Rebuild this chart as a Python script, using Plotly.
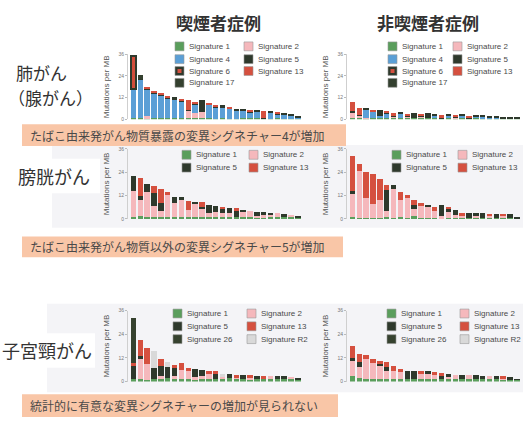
import plotly.graph_objects as go

W, H = 523, 421


def px(x):
    return x / W


def py(y):
    return 1 - y / H


# ---------------- data ----------------
cases = [1, 2, 3, 4, 5, 6, 7, 8, 9, 10, 11, 12, 13, 14, 15, 16, 17, 18, 19, 20, 21, 22, 23, 24, 25]
y_tickvals = [0, 12, 24, 36]

# Lung adenocarcinoma, smokers
lung_smk_sig1 = [0.6, 0.5, 0.4, 0.5, 0.5, 0.5, 0.6, 0.5, 0.5, 0.5, 0.5, 0.5, 0.4, 0.5, 0.4, 0.4, 1.0, 0.5, 0.8, 0.4, 0.4, 0.5, 0.4, 0.4, 0.5]
lung_smk_sig2 = [0, 0, 1.5, 0, 0, 0, 0, 0, 4.0, 3.0, 3.5, 0, 0, 0, 0, 0, 0, 0, 0, 0, 0, 0, 0, 0, 0]
lung_smk_sig4 = [15.9, 21.8, 15.0, 14.0, 13.2, 11.3, 10.4, 9.9, 0.5, 4.8, 0, 7.7, 6.6, 6.1, 5.6, 4.9, 4.3, 3.8, 3.5, 0.5, 3.0, 2.6, 2.5, 1.8, 0.6]
lung_smk_sig5 = [0, 0, 0, 0, 0, 0, 0.6, 0, 0, 0, 6.2, 0, 0, 0.5, 0, 0, 0, 0, 0.4, 0, 0.6, 0, 0, 0, 0]
lung_smk_sig6 = [18.5, 0, 0, 0, 0, 0, 0, 0, 0, 0, 0, 0, 0, 0, 0, 0, 0, 0, 0, 0, 0, 0, 0, 0, 0]
lung_smk_sig13 = [0, 0, 1.1, 0.8, 0.7, 0.7, 0, 0.7, 5.7, 1.5, 0, 0.7, 0.6, 0, 0.5, 0, 0, 0.4, 0, 3.5, 0, 0.4, 0, 0, 0]
lung_smk_sig17 = [0, 2.4, 0, 0, 0, 0, 0, 0, 0, 0, 0, 0, 0, 0, 0, 0, 0, 0, 0, 0, 0, 0, 0, 0, 0]

# Lung adenocarcinoma, non-smokers
lung_non_sig1 = [0.6, 0.5, 0.5, 0.5, 0.5, 0.5, 0.5, 0.6, 0.5, 0.8, 0.5, 0.8, 0.5, 0.5, 0.6, 0.5, 0.5, 0.5, 0.5, 0.5, 0.5, 0.4, 0.5, 0.7, 0.5]
lung_non_sig2 = [3.0, 2.0, 0.5, 0, 0, 0, 1.5, 0, 1.2, 0, 1.2, 0, 0, 0, 0, 1.0, 0, 0, 0, 0, 0, 0, 0, 0, 0]
lung_non_sig4 = [0, 0, 4.6, 3.9, 1.2, 3.0, 0, 2.7, 0, 0, 0, 0, 2.0, 0, 1.8, 0, 1.7, 0, 1.4, 1.1, 1.0, 0.9, 0.4, 0, 0]
lung_non_sig5 = [1.0, 0, 0, 0, 3.0, 0, 0, 0, 0, 2.1, 0, 1.9, 0, 0, 0, 0, 0, 0, 0, 0, 0, 0, 0, 0, 0]
lung_non_sig6 = [0, 0, 0, 0, 0, 0, 0, 0, 0, 0, 0, 0, 0, 0, 0, 0, 0, 0, 0, 0, 0, 0, 0, 0, 0]
lung_non_sig13 = [5.0, 3.9, 0, 0.7, 0, 0.7, 1.6, 0, 1.4, 0, 1.0, 0, 0, 1.9, 0, 0.7, 0, 1.5, 0, 0, 0, 0, 0, 0, 0]
lung_non_sig17 = [0, 0, 0, 0, 0, 0, 0, 0, 0, 0, 0, 0, 0, 0, 0, 0, 0, 0, 0, 0, 0, 0, 0, 0, 0]

# Bladder, smokers
blad_smk_sig1 = [1, 1.5, 1, 1, 1, 1, 1, 1, 1, 1, 1, 1, 0.8, 0.8, 0.8, 0.8, 0.8, 0.8, 0.8, 0.8, 0.8, 0.8, 0.8, 0.8, 0.6]
blad_smk_sig2 = [13.5, 8, 12.6, 5.5, 3, 11.6, 7, 8.7, 3.6, 6.8, 4.5, 2, 2.8, 2.2, 2, 0, 3, 3.3, 0.9, 1, 1.4, 2.1, 0, 1.2, 0]
blad_smk_sig5 = [7.5, 2.5, 4.5, 7, 4.3, 0, 3.4, 1.7, 0, 0.7, 0.5, 4.1, 3.0, 2.5, 3, 3.6, 0.8, 0, 2, 1.6, 1, 0, 1.7, 0, 0.6]
blad_smk_sig13 = [0, 9.2, 0, 3.5, 7, 1, 0, 0, 4.6, 0, 2.5, 0, 0, 0.8, 0, 1, 0, 0, 0, 0, 0, 0, 0, 0, 0]

# Bladder, non-smokers
blad_non_sig1 = [1, 0.5, 0.5, 0.5, 0.5, 1, 0.5, 1, 0.5, 1.5, 0.5, 0.5, 0.5, 0.5, 0.5, 0.5, 0.5, 0.5, 0.5, 0.5, 0.5, 0.5, 0.5, 0.5, 0.5]
blad_non_sig2 = [12, 24, 10, 7, 9, 3, 15, 8.5, 10, 3.5, 6.5, 5.8, 3.3, 1, 3, 1.5, 1.4, 0, 1.2, 0, 1.2, 0, 1.2, 0, 0]
blad_non_sig5 = [1.2, 0, 0, 0, 0, 11, 1.8, 0, 0, 2, 0, 0.8, 0, 5.6, 1.8, 2.6, 0, 2.4, 1.2, 2.4, 0, 2, 0, 1.9, 0.7]
blad_non_sig13 = [18.3, 3.8, 13.5, 15.7, 11.2, 2.3, 0, 4.4, 1.7, 2.7, 1, 0, 2.5, 0, 1, 0, 1, 0, 0, 0, 0.8, 0, 0.7, 0, 0]

# Cervix, smokers
cerv_smk_sig1 = [1.5, 1.5, 1, 1.5, 1.5, 2, 1.5, 1.5, 1.5, 1.5, 1.5, 1.2, 1.2, 1.2, 2, 1.2, 1.2, 1.2, 1.2, 1.2, 1.2, 1.2, 1.2, 1.2, 1.2]
cerv_smk_sig2 = [0, 10.5, 8, 0, 1.5, 0, 1.5, 4.2, 4.2, 1, 1.5, 3.3, 0, 1.6, 0, 1.3, 0, 1, 0, 0, 1.6, 0, 0, 1.3, 0]
cerv_smk_sig5 = [6.5, 1, 0, 5.5, 5, 5.2, 4.5, 0, 0, 3.8, 3, 0, 3, 0, 1.8, 0, 2.3, 0, 1.8, 0, 0, 1.6, 1.5, 0, 0.6]
cerv_smk_sig13 = [1.5, 8.3, 8.2, 0, 3.3, 0, 1, 3.5, 1, 0, 0, 1, 1, 0, 0, 1, 0, 1, 0, 1.8, 0, 0, 0, 0, 0]
cerv_smk_sig26 = [22.5, 0, 0, 0, 0, 0, 0, 0, 0, 0, 0, 0, 0, 0, 0, 0, 0, 0, 0, 0, 0, 0, 0, 0, 0]
cerv_smk_sigR2 = [0, 0, 0, 8.5, 0, 2.5, 0, 0, 0, 0, 0, 0, 0, 1.0, 0, 0, 0, 0, 0, 0, 0, 0, 0, 0, 0]

# Cervix, non-smokers
cerv_non_sig1 = [3, 2, 1.5, 1.2, 1.2, 1.2, 1.2, 1.2, 1.2, 1.2, 1.2, 1.2, 1.2, 1.2, 1.2, 1.2, 1.2, 1.2, 1.2, 1.2, 1.2, 1.2, 1.2, 1.2, 1.0]
cerv_non_sig2 = [8, 5.2, 9.8, 8.4, 7.3, 4, 4.3, 3.6, 0, 0, 2.8, 2.5, 2.5, 0, 1.6, 2.3, 0, 2.1, 0, 0, 1.6, 0, 0.8, 0, 0]
cerv_non_sig5 = [1, 2.5, 0, 0, 1, 2, 0, 0, 4.3, 4, 0, 1.5, 0, 2, 1, 0, 2.3, 0, 2.0, 1.8, 0, 1.6, 0, 1.0, 0.3]
cerv_non_sig13 = [6, 4.5, 2.2, 1.7, 1, 2.5, 2.5, 1.5, 0, 0, 1.5, 0, 1, 1, 0, 0, 0, 0, 0, 0, 0, 0, 0.6, 0, 0]
cerv_non_sig26 = [0, 0, 0, 0, 0, 0, 0, 0, 0, 0, 0, 0, 0, 0, 0, 0, 0, 0, 0, 0, 0, 0, 0, 0, 0]
cerv_non_sigR2 = [0, 0, 0, 0, 0, 0, 0, 0, 0, 0, 0, 0, 0, 0, 0, 0, 0, 0, 0, 0, 0, 0, 0, 0, 0]

col_titles = ["喫煙者症例", "非喫煙者症例"]
row_labels = ["肺がん", "（腺がん）", "膀胱がん", "子宮頸がん"]
banner_texts = [
    "たばこ由来発がん物質暴露の変異シグネチャー4が増加",
    "たばこ由来発がん物質以外の変異シグネチャー5が増加",
    "統計的に有意な変異シグネチャーの増加が見られない",
]

# ---------------- styles ----------------
COL = {
    "Signature 1": "#5a9e5c",
    "Signature 2": "#f5b8bc",
    "Signature 4": "#5b9fd6",
    "Signature 5": "#2e392c",
    "Signature 6": "#d24d3b",
    "Signature 13": "#d5503f",
    "Signature 17": "#34402f",
    "Signature 26": "#36422f",
    "Signature R2": "#d9d9d9",
}
LINE = {"Signature 6": ("#2e392c", 2.0)}

JP = "Noto Sans CJK JP"
LAT = "Liberation Sans"

lung_order = ["Signature 1", "Signature 2", "Signature 4", "Signature 5", "Signature 6", "Signature 13", "Signature 17"]
blad_order = ["Signature 1", "Signature 2", "Signature 5", "Signature 13"]
cerv_order = ["Signature 1", "Signature 2", "Signature 5", "Signature 13", "Signature 26", "Signature R2"]

panels = [
    dict(x0=128, x1=302, yt=52, yb=118, order=lung_order,
         vals=[lung_smk_sig1, lung_smk_sig2, lung_smk_sig4, lung_smk_sig5, lung_smk_sig6, lung_smk_sig13, lung_smk_sig17],
         leg=(175, 244, [44, 57, 69, 81]),
         cols=[["Signature 1", "Signature 4", "Signature 6", "Signature 17"], ["Signature 2", "Signature 5", "Signature 13"]]),
    dict(x0=347, x1=521, yt=52, yb=118, order=lung_order,
         vals=[lung_non_sig1, lung_non_sig2, lung_non_sig4, lung_non_sig5, lung_non_sig6, lung_non_sig13, lung_non_sig17],
         leg=(388, 453, [44, 57, 69, 81]),
         cols=[["Signature 1", "Signature 4", "Signature 6", "Signature 17"], ["Signature 2", "Signature 5", "Signature 13"]]),
    dict(x0=128, x1=302, yt=148, yb=219, order=blad_order,
         vals=[blad_smk_sig1, blad_smk_sig2, blad_smk_sig5, blad_smk_sig13],
         leg=(182, 249, [154, 167]),
         cols=[["Signature 1", "Signature 5"], ["Signature 2", "Signature 13"]]),
    dict(x0=347, x1=521, yt=148, yb=219, order=blad_order,
         vals=[blad_non_sig1, blad_non_sig2, blad_non_sig5, blad_non_sig13],
         leg=(392, 458, [154, 167]),
         cols=[["Signature 1", "Signature 5"], ["Signature 2", "Signature 13"]]),
    dict(x0=128, x1=302, yt=312, yb=384, order=cerv_order,
         vals=[cerv_smk_sig1, cerv_smk_sig2, cerv_smk_sig5, cerv_smk_sig13, cerv_smk_sig26, cerv_smk_sigR2],
         leg=(173, 247, [315, 328, 341]),
         cols=[["Signature 1", "Signature 5", "Signature 26"], ["Signature 2", "Signature 13", "Signature R2"]]),
    dict(x0=347, x1=521, yt=312, yb=384, order=cerv_order,
         vals=[cerv_non_sig1, cerv_non_sig2, cerv_non_sig5, cerv_non_sig13, cerv_non_sig26, cerv_non_sigR2],
         leg=(387, 460, [315, 328, 341]),
         cols=[["Signature 1", "Signature 5", "Signature 26"], ["Signature 2", "Signature 13", "Signature R2"]]),
]

fig = go.Figure()
shapes = []
annotations = []

# background boxes
shapes.append(dict(type="rect", xref="paper", yref="paper", x0=px(52), x1=px(523), y0=py(228), y1=py(144),
                   fillcolor="#f4f4f7", line=dict(width=0), layer="below"))
shapes.append(dict(type="rect", xref="paper", yref="paper", x0=px(15), x1=px(100), y0=py(193), y1=py(158),
                   fillcolor="#ffffff", line=dict(width=0), layer="below"))
shapes.append(dict(type="rect", xref="paper", yref="paper", x0=px(47), x1=px(523), y0=py(395), y1=py(305),
                   fillcolor="#f4f4f7", line=dict(width=0), layer="below"))
shapes.append(dict(type="rect", xref="paper", yref="paper", x0=px(0), x1=px(95), y0=py(370), y1=py(335),
                   fillcolor="#ffffff", line=dict(width=0), layer="below"))

layout_axes = {}
for i, p in enumerate(panels):
    n = i + 1
    sx = "" if n == 1 else str(n)
    for name, v in zip(p["order"], p["vals"]):
        lc, lw = LINE.get(name, ("rgba(0,0,0,0)", 0))
        fig.add_trace(go.Bar(x=cases, y=v, name=name, marker=dict(color=COL[name], line=dict(color=lc, width=lw)),
                             xaxis="x" + sx, yaxis="y" + sx, showlegend=False))
    layout_axes["xaxis" + sx] = dict(domain=[px(p["x0"]), px(p["x1"])], anchor="y" + sx, range=[0.2, 25.6],
                                     showticklabels=False, showgrid=False, zeroline=False, showline=False, ticks="")
    layout_axes["yaxis" + sx] = dict(domain=[py(p["yb"]), py(p["yt"])], anchor="x" + sx, range=[0, 36],
                                     tickvals=y_tickvals, ticktext=[str(t) for t in y_tickvals],
                                     tickfont=dict(size=5, color="#777", family=LAT),
                                     ticks="outside", ticklen=2, tickcolor="#bbb",
                                     showline=True, linecolor="#cfcfcf", linewidth=1,
                                     showgrid=False, zeroline=False,
                                     title=dict(text="Mutations per MB", font=dict(size=8, color="#555", family=LAT), standoff=7))
    # legend
    cx1, cx2, rows = p["leg"]
    for cx, names in zip([cx1, cx2], p["cols"]):
        for ry, name in zip(rows, names):
            shapes.append(dict(type="rect", xref="paper", yref="paper", x0=px(cx), x1=px(cx + 9),
                               y0=py(ry + 4.5), y1=py(ry - 4.5), fillcolor=("#2e392c" if name == "Signature 6" else COL[name]),
                               line=dict(color="#999", width=0.6)))
            if name == "Signature 6":
                shapes.append(dict(type="rect", xref="paper", yref="paper", x0=px(cx + 2.5), x1=px(cx + 6.5),
                                   y0=py(ry + 2), y1=py(ry - 2), fillcolor=COL["Signature 13"], line=dict(width=0)))
            annotations.append(dict(text=name, x=px(cx + 12), y=py(ry), xref="paper", yref="paper",
                                    xanchor="left", yanchor="middle", showarrow=False,
                                    font=dict(size=8, color="#4a4a4a", family=LAT)))

# column titles
for t, cx in zip(col_titles, [218, 428]):
    annotations.append(dict(text="<b>" + t + "</b>", x=px(cx), y=py(20), xref="paper", yref="paper",
                            xanchor="center", yanchor="middle", showarrow=False,
                            font=dict(size=17, color="#333", family=JP)))

# row labels
for t, x, y, s in zip(row_labels, [14, 6, 16, 0], [70, 96, 176, 352], [17, 17, 18, 18]):
    annotations.append(dict(text=t, x=px(x), y=py(y), xref="paper", yref="paper",
                            xanchor="left", yanchor="middle", showarrow=False,
                            font=dict(size=s, color="#333", family=JP)))

# banners
for t, (x0, x1, y0, y1) in zip(banner_texts, [(22, 346, 123, 145), (22, 343, 237, 258), (22, 338, 397, 420)]):
    shapes.append(dict(type="rect", xref="paper", yref="paper", x0=px(x0), x1=px(x1), y0=py(y1), y1=py(y0),
                       fillcolor="#f9c6a7", line=dict(width=0), layer="below"))
    annotations.append(dict(text=t, x=px(x0 + 6), y=py((y0 + y1) / 2), xref="paper", yref="paper",
                            xanchor="left", yanchor="middle", showarrow=False,
                            font=dict(size=12, color="#4a4a4a", family=JP)))

fig.update_layout(
    width=W, height=H, margin=dict(l=0, r=0, t=0, b=0),
    paper_bgcolor="#ffffff", plot_bgcolor="rgba(0,0,0,0)",
    barmode="stack", bargap=0.2, showlegend=False,
    shapes=shapes, annotations=annotations, **layout_axes,
)

fig.write_html("out.html")
